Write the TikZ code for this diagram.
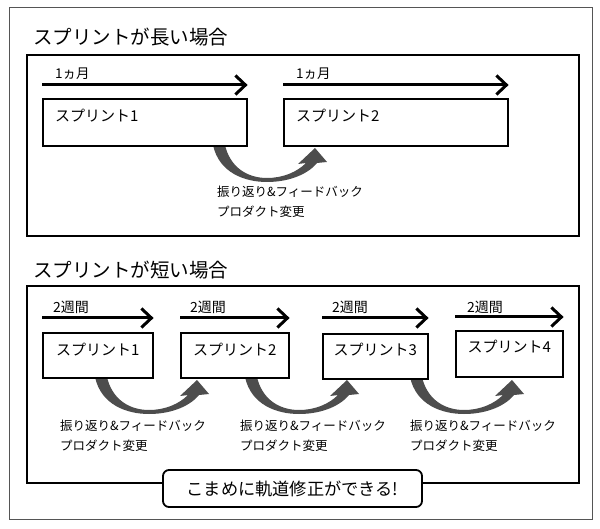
\documentclass[tikz,border=0pt]{standalone}
\usepackage{fontspec}
\setmainfont{Noto Sans CJK JP}
\usetikzlibrary{arrows.meta,calc}
\definecolor{fbgray}{HTML}{4D4D4D}
\definecolor{framegray}{HTML}{555555}
\newcommand{\fbarrow}[1]{%
  \begin{scope}[shift={#1}]
    \fill[fbgray] (0,-3) -- (0,0) .. controls (6,28) and (32,37) .. (54,37)
      .. controls (78,37) and (96,28) .. (104,18) -- (114,17) -- (102,3) -- (85,19) -- (93,18)
      .. controls (84,27) and (70,33) .. (54,33)
      .. controls (34,33) and (17,22) .. (12,0) -- (12,-3) -- cycle;
  \end{scope}}
\begin{document}
\begin{tikzpicture}[x=1pt,y=-1pt,
  title/.style={font=\fontsize{19.5}{22}\selectfont, inner sep=0pt, anchor=west},
  frame/.style={draw=black, line width=1.8pt},
  sbox/.style={draw=black, line width=1.6pt, fill=white, inner sep=0pt},
  slabel/.style={font=\fontsize{15}{17}\selectfont, inner sep=0pt},
  tlabel/.style={inner sep=0pt, anchor=west},
  fblabel/.style={font=\fontsize{12.5}{20}\selectfont, inner sep=0pt, anchor=north west, align=left},
  tl/.style={line width=3pt, -{Straight Barb[length=10pt,width=19pt]}},
  callout/.style={draw=black, line width=1.8pt, fill=white, rounded corners=6pt, inner sep=0pt,
    font=\fontsize{17.2}{19}\selectfont}
]
\useasboundingbox (0,0) rectangle (600,529);
\fill[white] (0,0) rectangle (600,529);
\draw[framegray, line width=0.9pt] (9,7) rectangle (592,519);

% ---------- long sprint ----------
\node[title] (t1) at (33,37) {スプリントが長い場合};
\draw[frame] (27,55) rectangle (579,236);

\fbarrow{(213,145)}
\node[sbox, anchor=north west, minimum width=204pt, minimum height=47pt] (a1) at (42,98) {};
\node[sbox, anchor=north west, minimum width=224pt, minimum height=47pt] (a2) at (283,98) {};
\node[slabel, anchor=west] (a1l) at (55,116) {スプリント1};
\node[slabel, anchor=west] (a2l) at (296,116) {スプリント2};
\draw[tl] ($(a1.north west)+(0,-13)$) -- ($(a1.north east)+(0,-13)$);
\draw[tl] ($(a2.north west)+(0,-13)$) -- ($(a2.north east)+(0,-13)$);
\node[tlabel, font=\fontsize{13.5}{15}\selectfont] (m1) at (55,74) {1ヵ月};
\node[tlabel, font=\fontsize{13.5}{15}\selectfont] (m2) at (296,74) {1ヵ月};
\node[fblabel] (f0) at (217,186) {振り返り\&フィードバック\\プロダクト変更};

% ---------- short sprint ----------
\node[title] (t2) at (33,270) {スプリントが短い場合};
\draw[frame] (27,286) rectangle (579,483);

\fbarrow{(95,377)}
\fbarrow{(245,377)}
\fbarrow{(410,377)}
\node[sbox, anchor=north west, minimum width=110pt, minimum height=45pt] (b1) at (42,332) {};
\node[sbox, anchor=north west, minimum width=108pt, minimum height=45pt] (b2) at (180,332) {};
\node[sbox, anchor=north west, minimum width=105pt, minimum height=45pt] (b3) at (322,333) {};
\node[sbox, anchor=north west, minimum width=107pt, minimum height=46pt] (b4) at (455,330) {};
\node[slabel] (b1l) at ($(b1.north)+(0,18)$) {スプリント1};
\node[slabel] (b2l) at ($(b2.north)+(0,18)$) {スプリント2};
\node[slabel] (b3l) at ($(b3.north)+(0,17)$) {スプリント3};
\node[slabel] (b4l) at ($(b4.north)+(0,17)$) {スプリント4};
\draw[tl] ($(b1.north west)+(0,-14)$) -- ($(b1.north east)+(0,-14)$);
\draw[tl] ($(b2.north west)+(0,-14)$) -- ($(b2.north east)+(0,-14)$);
\draw[tl] ($(b3.north west)+(0,-15)$) -- ($(b3.north east)+(0,-15)$);
\draw[tl] ($(b4.north west)+(0,-13)$) -- ($(b4.north east)+(0,-13)$);
\node[tlabel, font=\fontsize{14}{16}\selectfont] (w1) at (53,307) {2週間};
\node[tlabel, font=\fontsize{14}{16}\selectfont] (w2) at (190,307) {2週間};
\node[tlabel, font=\fontsize{14}{16}\selectfont] (w3) at (332,307) {2週間};
\node[tlabel, font=\fontsize{14}{16}\selectfont] (w4) at (467,307) {2週間};
\node[fblabel] (f1) at (60,420) {振り返り\&フィードバック\\プロダクト変更};
\node[fblabel] (f2) at (240,420) {振り返り\&フィードバック\\プロダクト変更};
\node[fblabel] (f3) at (410,420) {振り返り\&フィードバック\\プロダクト変更};

\node[callout, minimum width=259pt, minimum height=37pt] (c) at (292.5,488.5) {こまめに軌道修正ができる!};
\end{tikzpicture}
\end{document}
